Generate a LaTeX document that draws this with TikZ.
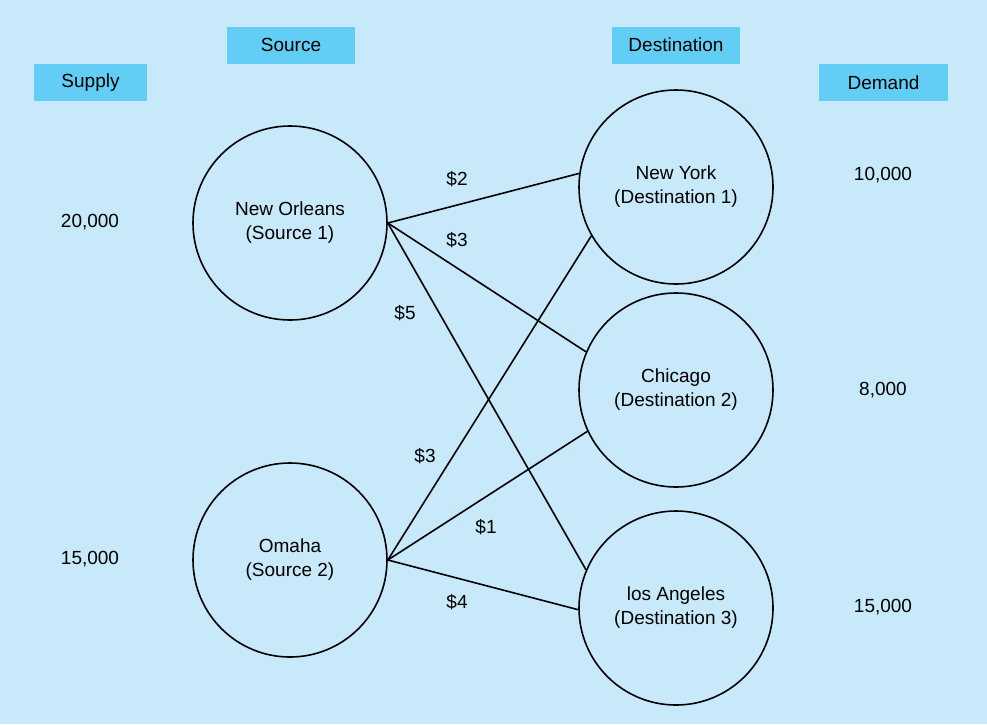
\documentclass[tikz,border=0pt]{standalone}
\usepackage{fontspec}
\setmainfont{Liberation Sans}
\definecolor{bg}{RGB}{200,233,249}
\definecolor{lab}{RGB}{98,206,245}
\begin{document}
\begin{tikzpicture}[x=1pt,y=-1pt,
  every node/.style={font=\fontsize{19}{24}\selectfont},
  city/.style={circle,draw,line width=1.6pt,minimum size=194pt,inner sep=0pt,align=center},
  hdr/.style={fill=lab,minimum height=37pt,inner sep=0pt},
  edge/.style={line width=1.6pt}]
\fill[bg] (0,0) rectangle (987,724);
\useasboundingbox (0,0) rectangle (987,724);
\node[hdr,minimum width=128pt] (hs) at (291,45) {Source};
\node[hdr,minimum width=128pt] (hd) at (676,45) {Destination};
\node[hdr,minimum width=113pt] (hsu) at (90.5,82.5) {Supply};
\node[hdr,minimum width=129pt] (hde) at (883.5,82.5) {Demand};
\node[city] (no) at (290,223) {New Orleans\\(Source 1)};
\node[city] (om) at (290,560) {Omaha\\(Source 2)};
\node[city] (ny) at (676,187) {New York\\(Destination 1)};
\node[city] (ch) at (676,390) {Chicago\\(Destination 2)};
\node[city] (la) at (676,608) {los Angeles\\(Destination 3)};
\draw[edge] (no.east) -- (ny.172);
\draw[edge] (no.east) -- (ch.157);
\draw[edge] (no.east) -- (la.157);
\draw[edge] (om.east) -- (ny.210);
\draw[edge] (om.east) -- (ch.205);
\draw[edge] (om.east) -- (la.181);
\node (c1) at (457,179) {\$2};
\node (c2) at (457,240) {\$3};
\node (c3) at (405,313) {\$5};
\node (c4) at (425,456) {\$3};
\node (c5) at (486,527) {\$1};
\node (c6) at (457,602) {\$4};
\node (s1) at (90,222) {20,000};
\node (s2) at (90,559) {15,000};
\node (d1) at (883,175) {10,000};
\node (d2) at (883,390) {8,000};
\node (d3) at (883,607) {15,000};
\end{tikzpicture}
\end{document}
